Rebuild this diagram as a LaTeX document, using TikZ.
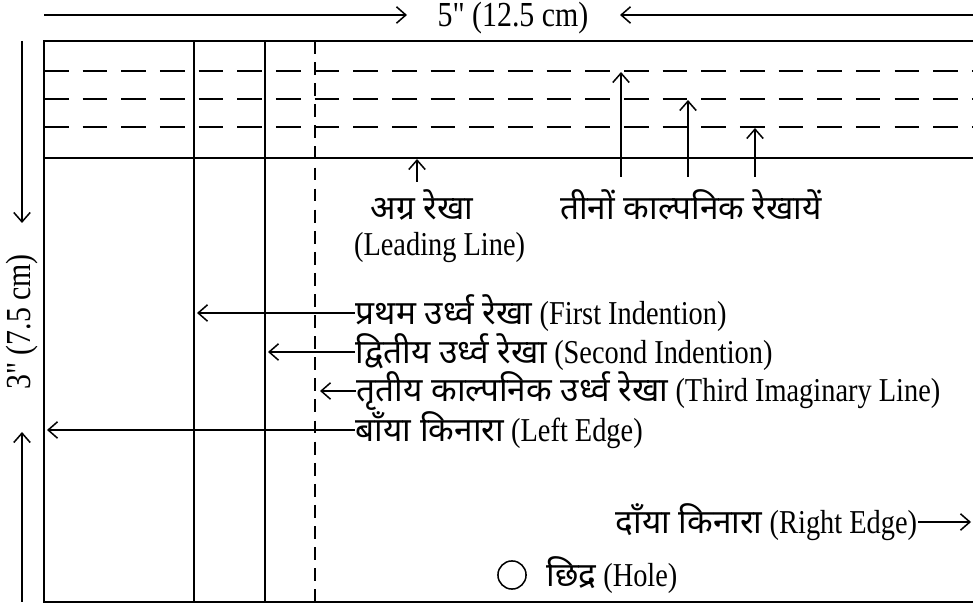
\documentclass[tikz,border=0pt]{standalone}
\usepackage{fontspec}
\setmainfont{Liberation Serif}[FakeStretch=0.85]
\newfontfamily\dimfont{Liberation Serif}[FakeStretch=0.85]
\newfontfamily\hindi[Script=Devanagari]{Noto Sans}
\usetikzlibrary{positioning}
\usetikzlibrary{arrows.meta}

\begin{document}
\begin{tikzpicture}[
        x=0.3mm, y=-0.3mm,
        line width=1.5pt,
        every node/.style={inner sep=0pt, font=\fontsize{28.5}{32}\selectfont},
        dimlabel/.style={font=\fontsize{30}{34}\dimfont},
        guide/.style={dash pattern=on 21pt off 12pt},
        vguide/.style={dash pattern=on 11pt off 7pt, line width=1.1pt},
        pointer/.style={-{Straight Barb[length=8pt,width=14pt]}, line width=1.3pt},
    ]
        \useasboundingbox (0,0) rectangle (973,606);
        % Sheet edges
        \coordinate (TL) at (44,41);
        \coordinate (TR) at (973,41);
        \coordinate (BL) at (44,602);
        \coordinate (BR) at (973,602);
        \draw (TR) -- (TL) -- (BL) -- (BR);

        % Leading line and the three imaginary lines
        \draw (44,158) -- (973,158);
        \foreach \y in {71,99,127} {
            \draw[guide] (44,\y) -- (973,\y);
        }

        % Indentions
        \draw (194,41) -- (194,602);
        \draw (265,41) -- (265,602);
        \draw[vguide] (315,41) -- (315,602);

        % Size of the card
        \node[dimlabel] (width) at (513,18) {5" (12.5 cm)};
        \coordinate (wL) at (44,15);
        \coordinate (wR) at (973,15);
        \draw[pointer] (wL) -- (407,15);
        \draw[pointer] (wR) -- (620,15);
        \node[dimlabel, rotate=90] (height) at (22,322) {3" (7.5 cm)};
        \coordinate (hT) at (22,41);
        \coordinate (hB) at (22,602);
        \draw[pointer] (hT) -- (22,223);
        \draw[pointer] (hB) -- (22,432);

        % Leading line label
        \node (lead) at (422,205) {\hindi अग्र रेखा};
        \node[below=9pt of lead, xshift=15] (leadEn) {(Leading Line)};
        \coordinate (leadT) at (417,159);
        \draw[pointer] (417,182) -- (leadT);

        % Imaginary lines label
        \node (three) at (691,205) {\hindi तीनों काल्पनिक रेखायें};
        \coordinate (im1) at (621,72);
        \coordinate (im2) at (688,100);
        \coordinate (im3) at (755,128);
        \draw[pointer] (621,177) -- (im1);
        \draw[pointer] (688,177) -- (im2);
        \draw[pointer] (755,177) -- (im3);

        % Vertical lines labels
        \node[anchor=west] (first) at (355,313) {{\hindi प्रथम उर्ध्व रेखा} (First Indention)};
        \node[anchor=west] (second) at (355,352) {{\hindi द्वितीय उर्ध्व रेखा} (Second Indention)};
        \node[anchor=west] (third) at (356,391) {{\hindi तृतीय काल्पनिक उर्ध्व रेखा} (Third Imaginary Line)};
        \node[anchor=west] (left) at (355,430) {{\hindi बाँया किनारा} (Left Edge)};
        \coordinate (firstT) at (197,313);
        \coordinate (secondT) at (268,352);
        \coordinate (thirdT) at (320,391);
        \coordinate (leftT) at (47,430);
        \draw[pointer] (first.west) -- (firstT);
        \draw[pointer] (second.west) -- (secondT);
        \draw[pointer] (third.west) -- (thirdT);
        \draw[pointer] (left.west) -- (leftT);

        % Right edge
        \node[anchor=east] (right) at (918,522) {{\hindi दाँया किनारा} (Right Edge)};
        \coordinate (rightT) at (971,522);
        \draw[pointer] (right.east) -- (rightT);

        % Hole
        \node[draw, circle, minimum size=24, line width=1.3pt] (hole) at (512,575) {};
        \node[right=16pt of hole] (holeTxt) {{\hindi छिद्र} (Hole)};
\end{tikzpicture}
\end{document}
